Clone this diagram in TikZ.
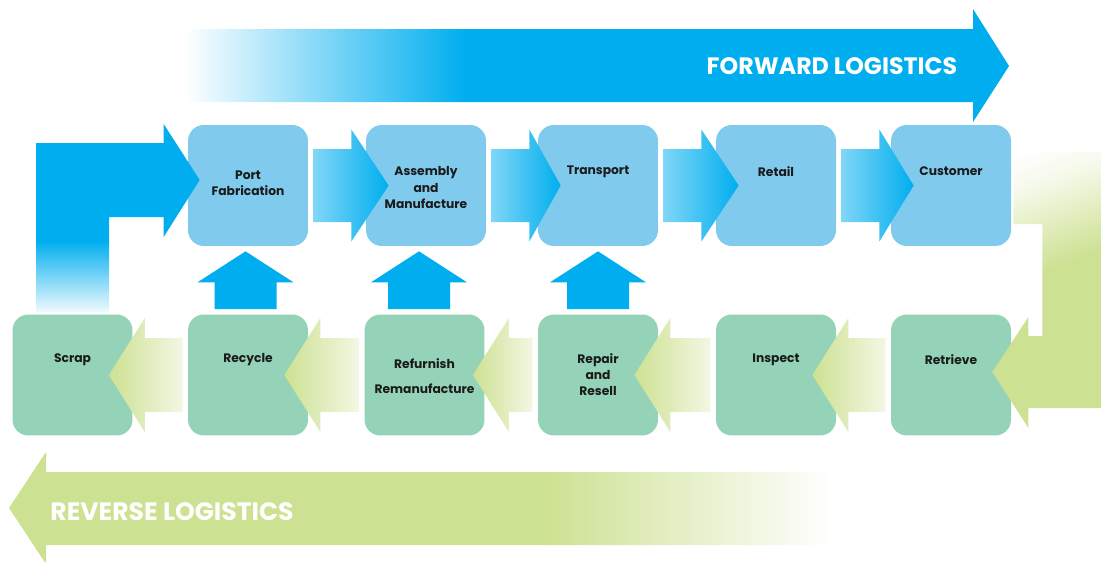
\documentclass[tikz,border=0pt]{standalone}
\usepackage{fontspec}
\setmainfont{Poppins}
\usetikzlibrary{positioning, calc}

\definecolor{fwdblue}{HTML}{00AEEF}
\definecolor{topfill}{HTML}{80CBED}
\definecolor{botfill}{HTML}{94D3B7}
\definecolor{revgreen}{HTML}{CDE192}
\definecolor{labeltext}{HTML}{1A1A1A}

% fades (the middle 25bp--75bp is what covers a path)
\pgfdeclarehorizontalshading{fwdfade}{100bp}{color(0bp)=(white); color(25bp)=(white); color(42bp)=(fwdblue); color(100bp)=(fwdblue)}
\pgfdeclarehorizontalshading{revfade}{100bp}{color(0bp)=(revgreen); color(57.5bp)=(revgreen); color(75bp)=(white); color(100bp)=(white)}
\pgfdeclareverticalshading{scrapfade}{100bp}{color(0bp)=(fwdblue!6); color(25bp)=(fwdblue!6); color(44bp)=(fwdblue); color(100bp)=(fwdblue)}
\pgfdeclareverticalshading{custfade}{100bp}{color(0bp)=(revgreen); color(54bp)=(revgreen); color(72bp)=(white!80!revgreen); color(80bp)=(white); color(100bp)=(white)}

% block arrow, left box #1 to right box #2
\newcommand{\fwdarrow}[2]{%
  \shade[left color=fwdblue!50!white, middle color=fwdblue, right color=fwdblue]
    ($(#1.east)+(5,-36.5)$) -- ($(#1.east)+(43,-36.5)$) -- ($(#1.east)+(43,-56)$)
    -- ($(#2.west)+(23,0)$)
    -- ($(#1.east)+(43,56)$) -- ($(#1.east)+(43,36.5)$) -- ($(#1.east)+(5,36.5)$) -- cycle;}

% block arrow, right box #2 to left box #3, tip #1 inside #3
\newcommand{\revarrow}[3][24]{%
  \shade[left color=revgreen, middle color=revgreen, right color=revgreen!25!white]
    ($(#2.west)+(-5,-37)$) -- ($(#3.east)+(36-#1,-37)$) -- ($(#3.east)+(36-#1,-57)$)
    -- ($(#3.east)+(-#1,0)$)
    -- ($(#3.east)+(36-#1,57)$) -- ($(#3.east)+(36-#1,37)$) -- ($(#2.west)+(-5,37)$) -- cycle;}

% block arrow, bottom box #2 up to top box #3, shifted by #1
\newcommand{\upblock}[3][0]{%
  \fill[fwdblue]
    ($(#2.north)+(#1-31,-5)$) -- ($(#3.south -| #2.north)+(#1-31,36)$) -- ($(#3.south -| #2.north)+(#1-48,36)$)
    -- ($(#3.south -| #2.north)+(#1,5)$)
    -- ($(#3.south -| #2.north)+(#1+48,36)$) -- ($(#3.south -| #2.north)+(#1+31,36)$) -- ($(#2.north)+(#1+31,-5)$) -- cycle;}

\begin{document}
\begin{tikzpicture}[x=0.02cm, y=-0.02cm,
    box/.style={rounded corners=9pt, minimum width=2.4cm, minimum height=2.42cm, inner sep=0pt},
    fwdbox/.style={box, fill=topfill},
    revbox/.style={box, fill=botfill},
    lbl/.style={text=labeltext, align=center, inner sep=0pt, font=\bfseries\fontsize{7}{9.2}\selectfont},
    title/.style={text=white, inner sep=0pt, font=\bfseries\fontsize{13.5}{16}\selectfont}
  ]
  \useasboundingbox (0,0) rectangle (1101,561);

  % banners
  \shade[shading=fwdfade] (185,29) -- (973,29) -- (973,9) -- (1009,66) -- (973,122) -- (973,102) -- (185,102) -- cycle;
  \node[title] (fwdtitle) at (832,66) {FORWARD LOGISTICS};

  \shade[shading=revfade] (833,472) -- (46,472) -- (46,452) -- (9,508) -- (46,564) -- (46,545) -- (833,545) -- cycle;
  \node[title, font=\bfseries\fontsize{14.3}{17}\selectfont] (revtitle) at (172,512) {REVERSE LOGISTICS};

  % boxes
  \node[fwdbox] (port) at (248,185.5) {};
  \node[fwdbox] (assem) at (426,185.5) {};
  \node[fwdbox] (transp) at (598,185.5) {};
  \node[fwdbox] (retail) at (776,185.5) {};
  \node[fwdbox] (cust) at (951,185.5) {};

  \node[revbox] (scrap) at (72.5,375) {};
  \node[revbox] (recyc) at (248,375) {};
  \node[revbox] (refurb) at (424.5,375) {};
  \node[revbox] (repair) at (598,375) {};
  \node[revbox] (inspect) at (776,375) {};
  \node[revbox] (retriev) at (951,375) {};

  % scrap back into the forward chain
  \shade[shading=scrapfade] ($(scrap.north)+(-36.5,-2)$) -- ($(scrap.north |- port.west)+(-36.5,-42.5)$)
    -- ($(port.west)+(-24,-42.5)$) -- ($(port.west)+(-24,-61.5)$) -- ($(port.west)+(12,-5.5)$)
    -- ($(port.west)+(-24,51.5)$) -- ($(port.west)+(-24,31.5)$) -- ($(scrap.north |- port.west)+(36.5,31.5)$)
    -- ($(scrap.north)+(36.5,-2)$) -- cycle;

  % customer round to retrieve
  \shade[shading=custfade, shading angle=20]
    ($(cust.east)+(2,-33.5)$) -- ($(cust.east)+(90,-33.5)$) -- ($(retriev.east)+(90,33)$)
    -- ($(retriev.east)+(17,33)$) -- ($(retriev.east)+(17,53)$) -- ($(retriev.east)+(-19,-3)$)
    -- ($(retriev.east)+(17,-58)$) -- ($(retriev.east)+(17,-39)$) -- ($(retriev.east)+(31,-39)$)
    -- ($(cust.east)+(31,38.5)$) -- ($(cust.east)+(2,38.5)$) -- cycle;

  \fwdarrow{port}{assem}
  \fwdarrow{assem}{transp}
  \fwdarrow{transp}{retail}
  \fwdarrow{retail}{cust}

  \revarrow{recyc}{scrap}
  \revarrow{refurb}{recyc}
  \revarrow[12]{repair}{refurb}
  \revarrow{inspect}{repair}
  \revarrow{retriev}{inspect}

  \upblock[-2.5]{recyc}{port}
  \upblock[-5.5]{refurb}{assem}
  \upblock{repair}{transp}

  % labels
  \node[lbl] (port-t) at ($(port.center)+(0,-2)$) {Port\\Fabrication};
  \node[lbl] (assem-t) at ($(assem.center)+(0,2)$) {Assembly\\and\\Manufacture};
  \node[lbl] (transp-t) at ($(transp.center)+(0,-13.5)$) {Transport};
  \node[lbl] (retail-t) at ($(retail.center)+(0,-14)$) {Retail};
  \node[lbl] (cust-t) at ($(cust.center)+(0,-14)$) {Customer};

  \node[lbl] (scrap-t) at ($(scrap.center)+(0,-15)$) {Scrap};
  \node[lbl] (recyc-t) at ($(recyc.center)+(0,-15)$) {Recycle};
  \node[lbl] (refurb-t) at ($(refurb.center)+(0,1.5)$) {Refurnish\\[5pt]Remanufacture};
  \node[lbl] (repair-t) at ($(repair.center)+(0,-0.5)$) {Repair\\and\\Resell};
  \node[lbl] (inspect-t) at ($(inspect.center)+(0,-15.5)$) {Inspect};
  \node[lbl] (retriev-t) at ($(retriev.center)+(0,-15.5)$) {Retrieve};
\end{tikzpicture}
\end{document}
